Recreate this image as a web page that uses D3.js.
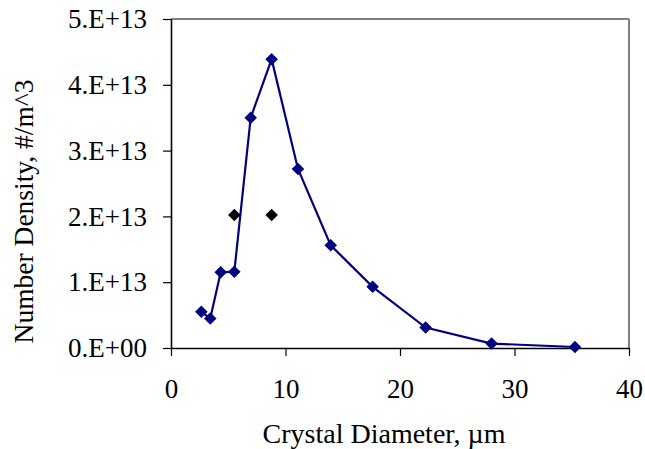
<!DOCTYPE html>
<html><head><meta charset="utf-8">
<script src="https://cdn.jsdelivr.net/npm/d3@7"></script>
<style>body{margin:0;background:#fff;} svg{display:block;}</style>
</head><body>
<svg id="c" width="645" height="449"></svg>
<script>
const diameter = [2.65, 3.43, 4.34, 5.53, 6.96, 8.79, 11.09, 13.95, 17.61, 22.24, 28.0, 35.28];
const density  = [0.55e13, 0.45e13, 1.15e13, 1.16e13, 3.50e13, 4.39e13, 2.72e13, 1.56e13, 0.93e13, 0.31e13, 0.067e13, 0.015e13];
const extraDiameter = [5.53, 8.79];
const extraDensity  = [2.02e13, 2.02e13];
const xTicks = [0, 10, 20, 30, 40];
const yTicks = [0, 1e13, 2e13, 3e13, 4e13, 5e13];
const yTickLabels = ["0.E+00", "1.E+13", "2.E+13", "3.E+13", "4.E+13", "5.E+13"];

const svg = d3.select("#c");
const L = 171, R = 629, T = 19, B = 348;
const x = d3.scaleLinear().domain([0, 40]).range([L, R]);
const y = d3.scaleLinear().domain([0, 5e13]).range([B, T]);
const font = "'Liberation Serif', 'Times New Roman', serif";

// frame top/right
svg.append("line").attr("x1", L).attr("x2", R).attr("y1", T).attr("y2", T).attr("stroke", "#808080").attr("stroke-width", 2);
svg.append("line").attr("x1", R).attr("x2", R).attr("y1", T).attr("y2", B).attr("stroke", "#808080").attr("stroke-width", 2);

const xAxis = svg.append("g").attr("transform", `translate(0,${B})`)
  .call(d3.axisBottom(x).tickValues(xTicks).tickSize(8).tickPadding(23).tickSizeOuter(0));
const yAxis = svg.append("g").attr("transform", `translate(${L},0)`)
  .call(d3.axisLeft(y).tickValues(yTicks).tickFormat((d, i) => yTickLabels[i]).tickSize(8).tickPadding(16).tickSizeOuter(0));
[xAxis, yAxis].forEach(a => {
  a.select(".domain").attr("stroke", "#000").attr("stroke-width", 1.6);
  a.selectAll(".tick line").attr("stroke", "#000").attr("stroke-width", 1.2);
  a.selectAll("text").attr("font-family", font).attr("font-size", 27).attr("fill", "#000");
});

const pts = diameter.map((d, i) => [d, density[i]]);
svg.append("path").datum(pts)
  .attr("d", d3.line().x(d => x(d[0])).y(d => y(d[1])))
  .attr("fill", "none").attr("stroke", "#000080").attr("stroke-width", 2.2);

const diamond = d3.symbol().type(d3.symbolDiamond2).size(100);
svg.selectAll(".m").data(pts).enter().append("path")
  .attr("transform", d => `translate(${x(d[0])},${y(d[1])})`)
  .attr("d", diamond).attr("fill", "#000080");
svg.selectAll(".e").data(extraDiameter.map((d, i) => [d, extraDensity[i]])).enter().append("path")
  .attr("transform", d => `translate(${x(d[0])},${y(d[1])})`)
  .attr("d", diamond).attr("fill", "#000");

svg.append("text").attr("x", 384).attr("y", 443).attr("text-anchor", "middle")
  .attr("font-family", font).attr("font-size", 28).text("Crystal Diameter, µm");
svg.append("text").attr("transform", "translate(33,211.5) rotate(-90)").attr("text-anchor", "middle")
  .attr("font-family", font).attr("font-size", 27.5).text("Number Density, #/m^3");
</script>
</body></html>
